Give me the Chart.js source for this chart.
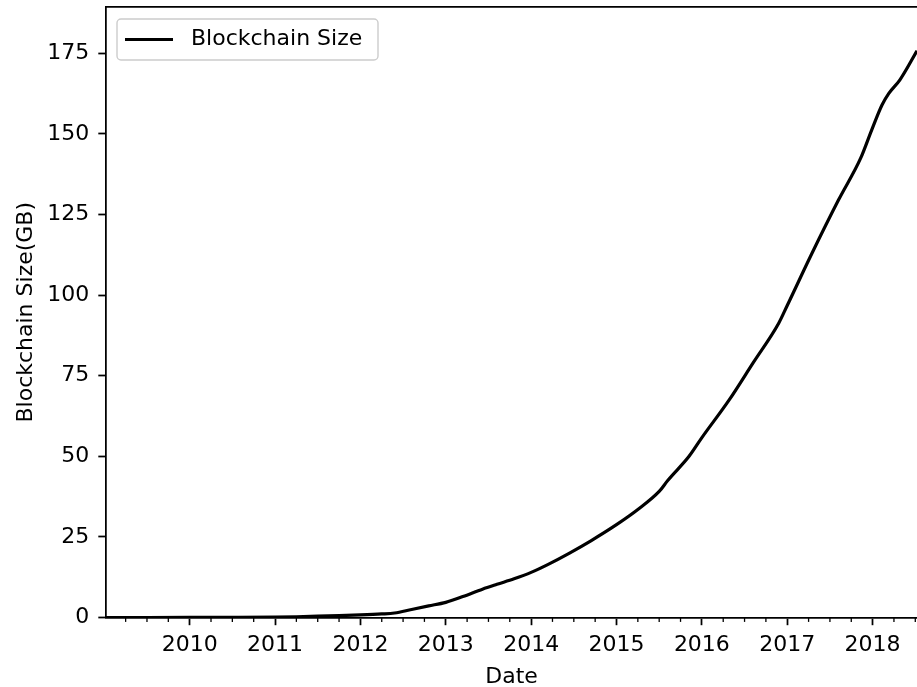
<!DOCTYPE html>
<html>
<head>
<meta charset="utf-8">
<script src="https://cdn.jsdelivr.net/npm/chart.js@4/dist/chart.umd.min.js"></script>
<style>
html,body{margin:0;padding:0;background:#fff;}
#wrap{width:917px;height:687px;position:relative;}
</style>
</head>
<body>
<div id="wrap"><canvas id="c"></canvas></div>
<script>
// Decimal-year dates and blockchain size (GB)
const dates = [2009.02, 2009.5, 2010.0, 2010.5, 2011.0, 2011.25, 2011.5, 2011.75, 2012.0, 2012.25, 2012.4,
  2012.6, 2012.8, 2013.0, 2013.2, 2013.43, 2013.6, 2013.8, 2014.0, 2014.2, 2014.45, 2014.7, 2015.0,
  2015.25, 2015.5, 2015.6, 2015.85, 2016.0, 2016.32, 2016.6, 2016.9, 2017.0, 2017.29, 2017.6,
  2017.86, 2017.99, 2018.11, 2018.19, 2018.32, 2018.52];
const sizes = [0, 0.001, 0.01, 0.03, 0.1, 0.2, 0.4, 0.6, 0.8, 1.1, 1.4,
  2.5, 3.6, 4.7, 6.5, 8.8, 10.3, 12.0, 14.0, 16.5, 20.0, 23.8, 28.8,
  33.5, 39.1, 42.5, 50.0, 55.8, 67.5, 79.0, 91.3, 96.8, 113.0, 129.5,
  142.5, 151.3, 159.0, 162.6, 166.8, 175.8];
const yearTicks = [2010, 2011, 2012, 2013, 2014, 2015, 2016, 2017, 2018];
const yTicks = [0, 25, 50, 75, 100, 125, 150, 175];
const seriesLabel = 'Blockchain Size';

const X_MIN = 2009.02, X_MAX = 2018.52, Y_MIN = 0, Y_MAX = 189.4;
const FONT = "'DejaVu Sans', sans-serif";
const FS = 22;

const minorTicks = [];
for (let y = 2009; y <= 2019; y++) {
  for (let q = 1; q < 4; q++) minorTicks.push(y + q / 4);
}

function noPad(s) {
  s.paddingTop = 0; s.paddingBottom = 0; s.paddingLeft = 0; s.paddingRight = 0;
}

const overlay = {
  id: 'overlay',
  afterDraw(chart) {
    const ctx = chart.ctx;
    const xs = chart.scales.x;
    const area = chart.chartArea;
    ctx.save();
    // minor ticks
    ctx.strokeStyle = '#000';
    ctx.lineWidth = 1.3;
    minorTicks.forEach(v => {
      if (v < X_MIN || v > X_MAX) return;
      const px = xs.getPixelForValue(v);
      ctx.beginPath();
      ctx.moveTo(px, area.bottom);
      ctx.lineTo(px, area.bottom + 4.4);
      ctx.stroke();
    });
    // legend
    const lx = 117, ly = 19, lw = 261, lh = 41, r = 4;
    ctx.beginPath();
    ctx.moveTo(lx + r, ly);
    ctx.arcTo(lx + lw, ly, lx + lw, ly + lh, r);
    ctx.arcTo(lx + lw, ly + lh, lx, ly + lh, r);
    ctx.arcTo(lx, ly + lh, lx, ly, r);
    ctx.arcTo(lx, ly, lx + lw, ly, r);
    ctx.closePath();
    ctx.fillStyle = 'rgba(255,255,255,0.8)';
    ctx.fill();
    ctx.strokeStyle = '#cccccc';
    ctx.lineWidth = 1.4;
    ctx.stroke();
    const ds = chart.data.datasets[0];
    ctx.strokeStyle = ds.borderColor;
    ctx.lineWidth = ds.borderWidth;
    ctx.beginPath();
    ctx.moveTo(125, ly + lh / 2);
    ctx.lineTo(173, ly + lh / 2);
    ctx.stroke();
    ctx.fillStyle = '#000';
    ctx.font = FS + 'px ' + FONT;
    ctx.textBaseline = 'middle';
    ctx.textAlign = 'left';
    ctx.fillText(ds.label, 191, ly + lh / 2);
    ctx.restore();
  }
};

new Chart(document.getElementById('c'), {
  type: 'line',
  data: {
    datasets: [{
      label: seriesLabel,
      data: dates.map((d, i) => ({x: d, y: sizes[i]})),
      borderColor: '#000',
      borderWidth: 3.2,
      pointRadius: 0,
      cubicInterpolationMode: 'monotone',
      fill: false
    }]
  },
  options: {
    responsive: true,
    maintainAspectRatio: false,
    animation: false,
    layout: {padding: {left: 0, right: 0, top: 0, bottom: 0}},
    plugins: {legend: {display: false}, tooltip: {enabled: false}},
    scales: {
      x: {
        type: 'linear', position: 'bottom', min: X_MIN, max: X_MAX,
        afterBuildTicks(s) { s.ticks = yearTicks.map(v => ({value: v})); },
        afterFit(s) { s.height = 69.5; noPad(s); },
        ticks: {
          color: '#000', font: {family: FONT, size: FS}, padding: 7,
          maxRotation: 0, autoSkip: false,
          callback: v => String(v)
        },
        grid: {drawOnChartArea: false, tickLength: 7.7, tickWidth: 1.76, tickColor: '#000'},
        border: {display: true, color: '#000', width: 1.76},
        title: {display: true, text: 'Date', color: '#000', font: {family: FONT, size: FS}, padding: {top: 0, bottom: -3}}
      },
      xTop: {
        type: 'linear', position: 'top', min: X_MIN, max: X_MAX,
        afterFit(s) { s.height = 7; noPad(s); },
        ticks: {display: false},
        grid: {drawOnChartArea: false, drawTicks: false},
        border: {display: true, color: '#000', width: 1.76}
      },
      y: {
        type: 'linear', position: 'left', min: Y_MIN, max: Y_MAX,
        afterBuildTicks(s) { s.ticks = yTicks.map(v => ({value: v})); },
        afterFit(s) { s.width = 106; noPad(s); },
        ticks: {color: '#000', font: {family: FONT, size: FS}, padding: 9},
        grid: {drawOnChartArea: false, tickLength: 7.7, tickWidth: 1.76, tickColor: '#000'},
        border: {display: true, color: '#000', width: 1.76},
        title: {display: true, text: 'Blockchain Size(GB)', color: '#000', font: {family: FONT, size: FS}, padding: {top: 13, bottom: 0}}
      }
    }
  },
  plugins: [overlay]
});
</script>
</body>
</html>
